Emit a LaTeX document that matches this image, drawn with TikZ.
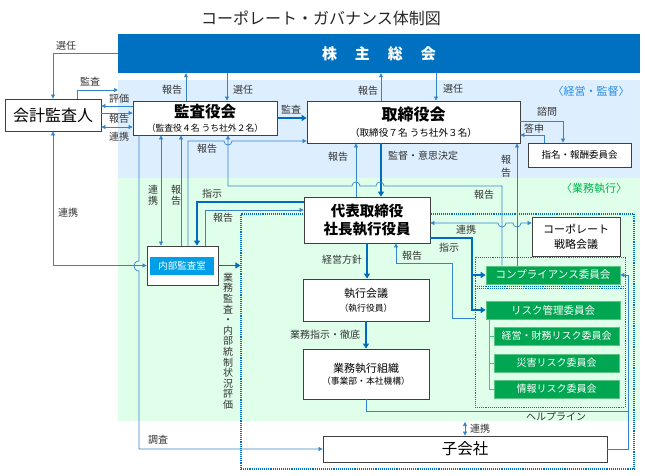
\documentclass[tikz,border=0pt]{standalone}
\usepackage{fontspec}
\setmainfont{Noto Sans CJK JP}
\usetikzlibrary{arrows.meta}

\definecolor{bannerblue}{RGB}{0,112,192}
\definecolor{regblue}{RGB}{221,238,255}
\definecolor{reggreen}{RGB}{224,255,234}
\definecolor{comgreen}{RGB}{0,166,81}
\definecolor{comedge}{RGB}{90,196,130}
\definecolor{officeblue}{RGB}{0,160,233}
\definecolor{lineblue}{RGB}{52,132,204}
\definecolor{thickblue}{RGB}{0,108,190}
\definecolor{dotblue}{RGB}{0,112,192}
\definecolor{boxgray}{RGB}{64,64,64}
\definecolor{txtgray}{RGB}{51,51,51}
\definecolor{headblue}{RGB}{40,140,225}
\definecolor{headgreen}{RGB}{0,176,80}

\begin{document}
\begin{tikzpicture}[x=1pt, y=-1pt,
    box/.style={draw=boxgray, fill=white, line width=0.8pt, inner sep=0pt, align=center},
    com/.style={fill=comgreen, draw=comedge, line width=0.6pt, text=white, inner sep=0pt, minimum height=18pt, font=\fontsize{10}{12}\selectfont},
    dotbox/.style={draw=dotblue, densely dotted, line width=1.1pt, inner sep=0pt},
    wire/.style={draw=lineblue, line width=0.7pt},
    conn/.style={wire, -{Triangle[length=4pt,width=4pt]}},
    dconn/.style={wire, {Triangle[length=4pt,width=4pt]}-{Triangle[length=4pt,width=4pt]}},
    thk/.style={draw=thickblue, line width=1.8pt, -{Triangle[length=5pt,width=6pt]}},
    lbl/.style={text=txtgray, inner sep=0pt, font=\fontsize{10}{12}\selectfont},
    vlbl/.style={lbl, align=center, font=\fontsize{10}{11}\selectfont}
]
    \useasboundingbox (0,0) rectangle (645,476);

    % Regions
    \fill[regblue] (118,80) rectangle (640,178);
    \fill[reggreen] (118,178) rectangle (640,421);
    \node[text=headblue, font=\fontsize{11}{13}\selectfont] (hkan) at (591,91) {〈経営・監督〉};
    \node[text=headgreen, font=\fontsize{11}{13}\selectfont] (hgyo) at (594,188) {〈業務執行〉};

    % Title and general meeting
    \node[text=black!85, font=\fontsize{16}{18}\selectfont] (title) at (321,18) {コーポレート・ガバナンス体制図};
    \node[fill=bannerblue, minimum width=522pt, minimum height=39pt, inner sep=0pt, text=white,
        font=\fontsize{15}{18}\selectfont\bfseries] (sh) at (379,53.5) {株\hspace{1.2em}主\hspace{1.2em}総\hspace{1.2em}会};

    % Dotted groups
    \node[dotbox, minimum width=393pt, minimum height=255pt] (big) at (437.5,341.5) {};
    \node[dotbox, line width=0.9pt, minimum width=150pt, minimum height=29pt] (compgrp) at (550,271.5) {};
    \node[dotbox, line width=0.9pt, minimum width=150pt, minimum height=119pt] (riskgrp) at (550,347.5) {};

    % Boxes
    \node[box, minimum width=96pt, minimum height=32pt, font=\fontsize{16}{18}\selectfont] (auditor) at (53,115) {会計監査人};
    \node[box, minimum width=144pt, minimum height=34pt, font=\fontsize{8.8}{14}\selectfont] (kansa) at (205,118)
        {{\fontsize{15.5}{16}\selectfont\bfseries 監査役会}\\（監査役４名 うち社外２名）};
    \node[box, minimum width=213pt, minimum height=42pt, font=\fontsize{9.6}{15.5}\selectfont] (board) at (413.5,122)
        {{\fontsize{16}{17}\selectfont\bfseries 取締役会}\\（取締役７名 うち社外３名）};
    \node[box, minimum width=103pt, minimum height=24pt, font=\fontsize{9.5}{11}\selectfont] (nomi) at (579.5,155) {指名・報酬委員会};
    \node[box, minimum width=126pt, minimum height=46pt, font=\fontsize{14.5}{18}\selectfont\bfseries] (ceo) at (367,220)
        {代表取締役\\社長執行役員};
    \node[box, minimum width=88pt, minimum height=39pt, font=\fontsize{11}{15}\selectfont] (strat) at (576,236.5)
        {コーポレート\\戦略会議};
    \node[box, minimum width=71pt, minimum height=39pt] (office) at (182.5,265.5) {};
    \node[fill=officeblue, minimum width=64pt, minimum height=18pt, inner sep=0pt, text=white,
        font=\fontsize{9.5}{11}\selectfont] (officein) at (182,266) {内部監査室};
    \node[box, minimum width=126pt, minimum height=42pt, font=\fontsize{8.8}{14}\selectfont] (exec) at (366,300)
        {{\fontsize{11}{12}\selectfont 執行会議}\\（執行役員）};
    \node[box, minimum width=126pt, minimum height=50pt, font=\fontsize{8.8}{12}\selectfont] (org) at (366,374)
        {{\fontsize{11}{12}\selectfont 業務執行組織}\\（事業部・本社機構）};
    \node[box, minimum width=284pt, minimum height=26pt, font=\fontsize{15.5}{17}\selectfont] (sub) at (465,449) {子会社};

    % Committees
    \node[com, minimum width=134pt, font=\fontsize{10.5}{12}\selectfont] (comp) at (553,275) {コンプライアンス委員会};
    \node[com, minimum width=134pt, font=\fontsize{10.5}{12}\selectfont] (risk0) at (553,310) {リスク管理委員会};
    \node[com, minimum width=125pt] (risk1) at (556.5,336) {経営・財務リスク委員会};
    \node[com, minimum width=125pt] (risk2) at (556.5,363) {災害リスク委員会};
    \node[com, minimum width=125pt] (risk3) at (556.5,389) {情報リスク委員会};
    \draw[wire, draw=comgreen!70] (risk0.south -| 489,0) |- (risk3.west);
    \draw[wire, draw=comgreen!70] (risk1.west -| 489,0) -- (risk1.west);
    \draw[wire, draw=comgreen!70] (risk2.west -| 489,0) -- (risk2.west);

    % General meeting and auditor
    \draw[conn] (sh.west) -| (auditor.north);
    \coordinate (kanL) at (118,90);
    \draw[conn] ([xshift=24pt]auditor.north) |- (kanL);
    \draw[conn] (kansa.west |- 0,106) -- (auditor.east |- 0,106);
    \draw[conn] (auditor.east |- 0,113) -- (kansa.west |- 0,113);
    \draw[dconn] (auditor.east |- 0,127) -- (kansa.west |- 0,127);

    % General meeting, board of auditors, board
    \draw[conn] (kansa.north -| 186,0) -- (sh.south -| 186,0);
    \draw[conn] (sh.south -| 227,0) -- (kansa.north -| 227,0);
    \draw[conn] (board.north -| 381,0) -- (sh.south -| 381,0);
    \draw[conn] (sh.south -| 436,0) -- (board.north -| 436,0);
    \draw[thk] (kansa.east |- 0,118) -- (board.west |- 0,118);
    \draw[conn] (board.east |- 0,121) -| (nomi.north -| 563,0);
    \draw[conn] (nomi.north -| 544,0) |- (board.east |- 0,135);

    % Board and president
    \draw[thk] (board.south -| 381,0) -- (ceo.north -| 381,0);
    \draw[conn] (ceo.north -| 356,0) -- (board.south -| 356,0);

    % Internal audit office
    \draw[dconn] (kansa.south -| 161,0) -- (office.north -| 161,0);
    \draw[conn] (office.north -| 181,0) -- (kansa.south -| 181,0);
    \draw[conn] (office.north -| 188,0) -- (188,141) -- (224,141)
        .. controls (224,146.3) and (232,146.3) .. (232,141) -- (board.west |- 0,141);
    \draw[thk] (ceo.west |- 0,202) -| (office.north -| 197,0);
    \draw[conn] (office.north -| 205,0) |- (ceo.west |- 0,210);
    \draw[thk] (office.east) -- (office.east -| big.west);
    \draw[dconn] (auditor.south) |- (office.west);
    \draw[conn] (kansa.south -| 139,0) -- (139,261)
        .. controls (132.3,261) and (132.3,271) .. (139,271) |- (sub.west);

    % Compliance reports
    \draw[conn] (comp.north -| 502,0) -- (502,186) -- (384,186)
        .. controls (384,180.7) and (376,180.7) .. (376,186) -- (360,186)
        .. controls (360,180.7) and (352,180.7) .. (352,186) -- (228,186) -- (kansa.south -| 228,0);
    \draw[conn] (comp.north -| 517,0) -- (board.south -| 517,0);
    \draw[dconn] (ceo.east |- 0,223) -- (498,223)
        .. controls (498,228.3) and (506,228.3) .. (506,223) -- (513,223)
        .. controls (513,228.3) and (521,228.3) .. (521,223) -- (strat.west |- 0,223);

    % Execution line
    \draw[thk] (ceo.south) -- (ceo.south |- exec.north);
    \draw[thk] (exec.south) -- (exec.south |- org.north);
    \draw[conn] (riskgrp.west |- 0,318) -| (452,263) -| (ceo.south -| 396,0);
    \draw[thk] (ceo.east |- 0,238) -| (risk0.west -| 472,0) -- (risk0.west);
    \draw[thk] (comp.west -| 472,0) -- (comp.west);

    % Help line and subsidiaries
    \coordinate (help) at (628,411);
    \draw[wire] (org.south) |- (help);
    \draw[conn] (sub.east) -| (comp.east -| help) -- (comp.east);
    \coordinate (grnB) at (465,422);
    \draw[dconn] (grnB) -- (sub.north -| grnB);

    % Labels
    \node[lbl] (l1) at (66,46) {選任};
    \node[lbl] (l2) at (90,82) {監査};
    \node[lbl] (l3) at (119,99) {評価};
    \node[lbl] (l4) at (119,119) {報告};
    \node[lbl] (l5) at (119,137) {連携};
    \node[lbl] (l6) at (172,90) {報告};
    \node[lbl] (l7) at (243,90) {選任};
    \node[lbl] (l8) at (291,110) {監査};
    \node[lbl] (l9) at (368,91) {報告};
    \node[lbl] (l10) at (453,89) {選任};
    \node[lbl] (l11) at (547,112) {諮問};
    \node[lbl] (l12) at (534,129) {答申};
    \node[lbl] (l13) at (207,149) {報告};
    \node[lbl] (l14) at (338,157) {報告};
    \node[lbl] (l15) at (423,156) {監督・意思決定};
    \node[vlbl, font=\fontsize{10}{13}\selectfont] (l16) at (506,166) {報\\告};
    \node[lbl] (l17) at (484,195) {報告};
    \node[vlbl] (l18) at (153,195) {連\\携};
    \node[vlbl] (l19) at (176,195) {報\\告};
    \node[lbl] (l20) at (212,194) {指示};
    \node[lbl] (l21) at (223,218) {報告};
    \node[lbl] (l22) at (68,213) {連携};
    \node[vlbl, font=\fontsize{10}{10.6}\selectfont] (l23) at (228,341)
        {業\\務\\監\\査\\・\\内\\部\\統\\制\\状\\況\\評\\価};
    \node[lbl] (l24) at (342,260) {経営方針};
    \node[lbl] (l25) at (412,256) {報告};
    \node[lbl] (l26) at (325,335) {業務指示・徹底};
    \node[lbl] (l27) at (449,248) {指示};
    \node[lbl] (l28) at (466,230) {連携};
    \node[lbl] (l29) at (556,417) {ヘルプライン};
    \node[lbl] (l30) at (480,429) {連携};
    \node[lbl] (l31) at (158,440) {調査};
\end{tikzpicture}
\end{document}
